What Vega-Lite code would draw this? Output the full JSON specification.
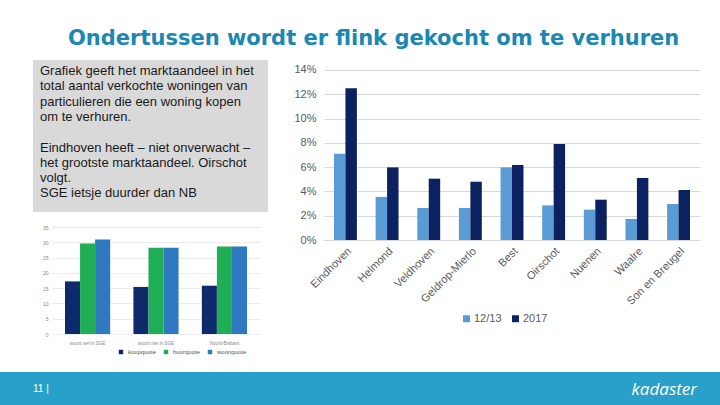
{
  "$schema": "https://vega.github.io/schema/vega-lite/v6.json",
  "padding": {"top": 28, "left": 0, "right": 0, "bottom": 0},
  "background": "white",
  "spacing": 0,
  "resolve": {"scale": {"color": "independent", "x": "independent", "y": "independent", "xOffset": "independent"}, "legend": {"color": "independent"}},
  "title": {
    "text": "Ondertussen wordt er flink gekocht om te verhuren",
    "font": "DejaVu Sans",
    "fontSize": 21,
    "fontWeight": "bold",
    "color": "#1b87b3",
    "anchor": "start",
    "baseline": "top",
    "dx": 68,
    "offset": 11,
    "frame": "group"
  },
  "config": {
    "view": {"stroke": null},
    "axis": {"labelFont": "Liberation Sans", "titleFont": "Liberation Sans"},
    "legend": {"labelFont": "Liberation Sans"}
  },
  "vconcat": [
    {
      "spacing": 0,
      "resolve": {"scale": {"color": "independent", "x": "independent", "y": "independent", "xOffset": "independent"}, "legend": {"color": "independent"}},
      "hconcat": [
        {"width": 33, "height": 10, "data": {"values": []}, "mark": "point"},
        {
          "spacing": 0,
          "resolve": {"scale": {"color": "independent", "x": "independent", "y": "independent", "xOffset": "independent"}, "legend": {"color": "independent"}},
          "vconcat": [
            {
              "width": 235,
              "height": 152,
              "view": {"fill": "#d9d9d9", "stroke": null},
              "data": {
                "values": [
                  {"alinea1": "Grafiek geeft het marktaandeel in het\ntotal aantal verkochte woningen van\nparticulieren die een woning kopen\nom te verhuren.", "alinea2": "Eindhoven heeft – niet onverwacht –\nhet grootste marktaandeel. Oirschot\nvolgt.\nSGE ietsje duurder dan NB"}
                ]
              },
              "encoding": {
                "x": {"datum": 0, "type": "quantitative", "scale": {"domain": [0, 1]}, "axis": null},
                "y": {"datum": 1, "type": "quantitative", "scale": {"domain": [0, 1]}, "axis": null}
              },
              "layer": [
                {
                  "mark": {"type": "text", "lineBreak": "\n", "align": "left", "baseline": "top", "lineHeight": 15.3, "font": "Liberation Sans", "fontSize": 13, "color": "#1a1a1a", "dx": 7, "dy": 5},
                  "encoding": {"text": {"field": "alinea1"}}
                },
                {
                  "mark": {"type": "text", "lineBreak": "\n", "align": "left", "baseline": "top", "lineHeight": 15.3, "font": "Liberation Sans", "fontSize": 13, "color": "#1a1a1a", "dx": 7, "dy": 81.5},
                  "encoding": {"text": {"field": "alinea2"}}
                }
              ]
            },
            {
              "spacing": 0,
              "resolve": {"scale": {"color": "independent", "x": "independent", "y": "independent", "xOffset": "independent"}, "legend": {"color": "independent"}},
              "hconcat": [
                {"width": 7, "height": 10, "data": {"values": []}, "mark": "point"},
                {
                  "width": 208,
                  "height": 122,
                  "data": {
                    "values": [
                      {"groep": "woont wel in SGE", "quote": "koopquote", "waarde": 17.2},
                      {"groep": "woont wel in SGE", "quote": "huurquote", "waarde": 29.6},
                      {"groep": "woont wel in SGE", "quote": "woonquote", "waarde": 30.9},
                      {"groep": "woont niet in SGE", "quote": "koopquote", "waarde": 15.4},
                      {"groep": "woont niet in SGE", "quote": "huurquote", "waarde": 28.2},
                      {"groep": "woont niet in SGE", "quote": "woonquote", "waarde": 28.2},
                      {"groep": "Noord-Brabant", "quote": "koopquote", "waarde": 15.8},
                      {"groep": "Noord-Brabant", "quote": "huurquote", "waarde": 28.6},
                      {"groep": "Noord-Brabant", "quote": "woonquote", "waarde": 28.6}
                    ]
                  },
                  "mark": "bar",
                  "encoding": {
                    "x": {
                      "field": "groep",
                      "type": "nominal",
                      "sort": null,
                      "scale": {"paddingInner": 0.34, "paddingOuter": 0.19},
                      "axis": {"title": null, "labelAngle": 0, "labelFontSize": 4.5, "labelColor": "#888", "domain": false, "ticks": false, "labelPadding": 6, "minExtent": 38}
                    },
                    "xOffset": {"field": "quote", "type": "nominal", "sort": null},
                    "y": {
                      "field": "waarde",
                      "type": "quantitative",
                      "scale": {"domain": [0, 39.907], "nice": false},
                      "axis": {"title": null, "values": [0, 5, 10, 15, 20, 25, 30, 35], "labelFontSize": 5, "labelColor": "#888", "domain": false, "ticks": false, "gridColor": "#ececec", "labelPadding": 4, "minExtent": 12}
                    },
                    "color": {
                      "field": "quote",
                      "type": "nominal",
                      "sort": null,
                      "scale": {"range": ["#0e2a6b", "#1fae55", "#2e79c2"]},
                      "legend": {"title": null, "orient": "none", "direction": "horizontal", "legendX": 66, "legendY": 137, "symbolType": "square", "symbolSize": 20, "labelFontSize": 6, "labelColor": "#555", "symbolStrokeWidth": 0, "columnPadding": 6}
                    }
                  }
                }
              ]
            }
          ]
        },
        {
          "width": 376,
          "height": 180,
          "data": {
            "values": [
              {"gemeente": "Eindhoven", "periode": "12/13", "aandeel": 0.0711},
              {"gemeente": "Eindhoven", "periode": "2017", "aandeel": 0.1249},
              {"gemeente": "Helmond", "periode": "12/13", "aandeel": 0.0354},
              {"gemeente": "Helmond", "periode": "2017", "aandeel": 0.0598},
              {"gemeente": "Veldhoven", "periode": "12/13", "aandeel": 0.0264},
              {"gemeente": "Veldhoven", "periode": "2017", "aandeel": 0.0505},
              {"gemeente": "Geldrop-Mierlo", "periode": "12/13", "aandeel": 0.0264},
              {"gemeente": "Geldrop-Mierlo", "periode": "2017", "aandeel": 0.0480},
              {"gemeente": "Best", "periode": "12/13", "aandeel": 0.0598},
              {"gemeente": "Best", "periode": "2017", "aandeel": 0.0618},
              {"gemeente": "Oirschot", "periode": "12/13", "aandeel": 0.0285},
              {"gemeente": "Oirschot", "periode": "2017", "aandeel": 0.0791},
              {"gemeente": "Nuenen", "periode": "12/13", "aandeel": 0.0250},
              {"gemeente": "Nuenen", "periode": "2017", "aandeel": 0.0332},
              {"gemeente": "Waalre", "periode": "12/13", "aandeel": 0.0173},
              {"gemeente": "Waalre", "periode": "2017", "aandeel": 0.0511},
              {"gemeente": "Son en Breugel", "periode": "12/13", "aandeel": 0.0296},
              {"gemeente": "Son en Breugel", "periode": "2017", "aandeel": 0.0412}
            ]
          },
          "mark": "bar",
          "encoding": {
            "x": {
              "field": "gemeente",
              "type": "nominal",
              "sort": null,
              "scale": {"paddingInner": 0.45, "paddingOuter": 0.24},
              "axis": {"title": null, "labelAngle": -45, "labelFontSize": 11, "labelColor": "#595959", "domainColor": "#d9d9d9", "ticks": false, "labelPadding": 5}
            },
            "xOffset": {"field": "periode", "type": "nominal", "sort": null},
            "y": {
              "field": "aandeel",
              "type": "quantitative",
              "scale": {"domain": [0, 0.148235], "nice": false},
              "axis": {"title": null, "values": [0, 0.02, 0.04, 0.06, 0.08, 0.1, 0.12, 0.14], "format": ".0%", "labelFontSize": 11, "labelColor": "#595959", "domain": false, "ticks": false, "gridColor": "#d9d9d9", "labelPadding": 8, "minExtent": 56}
            },
            "color": {
              "field": "periode",
              "type": "nominal",
              "sort": null,
              "scale": {"range": ["#5b9bd5", "#0b2160"]},
              "legend": {"title": null, "orient": "none", "direction": "horizontal", "legendX": 137, "legendY": 253, "symbolType": "square", "symbolSize": 49, "labelFontSize": 11, "labelColor": "#595959", "symbolStrokeWidth": 0, "columnPadding": 8, "labelOffset": 2}
            }
          }
        }
      ]
    },
    {
      "width": 720,
      "height": 33,
      "view": {"fill": "#29a0c9", "stroke": null},
      "data": {"values": [{"pagina": "11 |", "merk": "kadaster"}]},
      "layer": [
        {
          "mark": {"type": "text", "align": "left", "baseline": "middle", "font": "Liberation Sans", "fontSize": 10, "color": "#ffffff", "dx": 33},
          "encoding": {
            "text": {"field": "pagina"},
            "x": {"datum": 0, "type": "quantitative", "scale": {"domain": [0, 1]}, "axis": null},
            "y": {"datum": 0.5, "type": "quantitative", "scale": {"domain": [0, 1]}, "axis": null}
          }
        },
        {
          "mark": {"type": "text", "align": "right", "baseline": "middle", "font": "Open Sans", "fontSize": 17, "fontStyle": "italic", "color": "#ffffff", "dx": -23, "dy": 1},
          "encoding": {
            "text": {"field": "merk"},
            "x": {"datum": 1, "type": "quantitative", "scale": {"domain": [0, 1]}, "axis": null},
            "y": {"datum": 0.5, "type": "quantitative", "scale": {"domain": [0, 1]}, "axis": null}
          }
        }
      ]
    }
  ]
}
